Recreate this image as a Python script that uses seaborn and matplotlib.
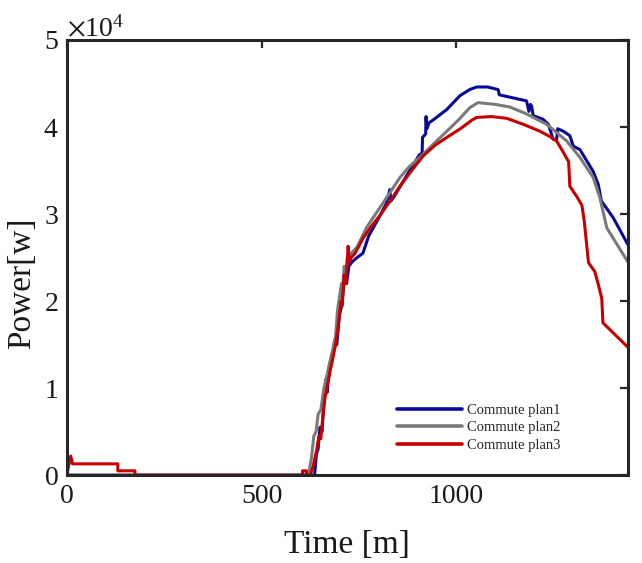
import numpy as np
import pandas as pd
import seaborn as sns
import matplotlib
matplotlib.use("Agg")
import matplotlib.pyplot as plt

# ---- data (Time in minutes, Power in W) ----
t_plan1 = [0, 636, 641, 645, 650, 655, 660, 665, 668, 672, 680, 688, 693, 700, 706, 712, 718,
           724, 732, 745, 760, 775, 800, 820, 829, 832, 840, 860, 880, 905, 912, 913, 921, 922,
           924, 930, 940, 975, 1009, 1034, 1052, 1080, 1107, 1110, 1150, 1180, 1186, 1190, 1193,
           1197, 1222, 1236, 1248, 1257, 1260, 1275, 1291, 1300, 1317, 1351, 1364, 1372, 1402, 1440]
p_plan1 = [0, 0, 2500, 3000, 5500, 5000, 8500, 11000, 9500, 12000, 13000, 15500, 15000, 18500,
           19500, 22500, 22000, 24000, 24500, 25000, 25500, 27500, 29500, 31200, 32800, 31500,
           32000, 33500, 35000, 36800, 37000, 38800, 39200, 41200, 39800, 40500, 40800, 42000,
           43600, 44300, 44600, 44600, 44300, 43700, 43300, 43000, 41800, 42600, 42400, 41300,
           40900, 40300, 38600, 38500, 39800, 39500, 39000, 37800, 37400, 34900, 33400, 31500,
           29600, 26500]

t_plan2 = [0, 620, 628, 634, 640, 645, 652, 660, 668, 675, 683, 690, 695, 700, 705, 708, 712,
           716, 720, 730, 745, 770, 803, 830, 855, 880, 906, 940, 975, 1005, 1034, 1055, 1100,
           1137, 1180, 1232, 1283, 1317, 1351, 1368, 1386, 1440]
p_plan2 = [0, 0, 2000, 4500, 5000, 7000, 7500, 10000, 11500, 13000, 14500, 16000, 19000, 20500,
           22000, 21500, 24000, 23000, 25000, 25500, 26200, 28500, 30700, 32500, 34200, 35500,
           36500, 38000, 39500, 40800, 42200, 42800, 42600, 42300, 41500, 40300, 38400, 36500,
           34200, 31900, 28400, 24500]

t_plan3 = [0, 10, 15, 131, 131, 175, 175, 605, 605, 615, 615, 625, 632, 641, 647, 652, 657, 663,
           670, 676, 683, 690, 696, 700, 704, 707, 709, 712, 716, 720, 722, 725, 730, 740, 760,
           780, 803, 830, 855, 885, 915, 945, 975, 1010, 1040, 1052, 1090, 1129, 1172, 1215, 1240,
           1257, 1273, 1288, 1291, 1309, 1322, 1328, 1339, 1355, 1363, 1373, 1376, 1440]
p_plan3 = [0, 2200, 1300, 1300, 500, 500, 0, 0, 500, 500, 0, 0, 1000, 2800, 4500, 4200, 6600,
           9000, 10500, 12000, 13500, 15000, 16900, 18500, 20000, 19500, 21100, 23000, 22000,
           24500, 26300, 24500, 25000, 25500, 27200, 28500, 29800, 31500, 33200, 35000, 36700,
           37900, 38800, 39800, 40800, 41100, 41200, 41000, 40300, 39500, 38900, 38400, 37200,
           36000, 33200, 32000, 31000, 29200, 24400, 23400, 22100, 20300, 17500, 14700]

labels = ["Commute plan1", "Commute plan2", "Commute plan3"]
colors = ["#0a0a9a", "#7a7a7a", "#c80000"]

frames = []
for lab, t, p in zip(labels, [t_plan1, t_plan2, t_plan3], [p_plan1, p_plan2, p_plan3]):
    frames.append(pd.DataFrame({"Time": t, "Power": p, "Plan": lab}))
df = pd.concat(frames, ignore_index=True)

sns.set_theme(style="white")
plt.rcParams["font.family"] = ["Liberation Serif", "DejaVu Serif"]
plt.rcParams["mathtext.fontset"] = "stix"

fig = plt.figure(figsize=(6.42, 5.63), dpi=100)
ax = fig.add_axes([0.104, 0.156, 0.874, 0.773])

sns.lineplot(data=df, x="Time", y="Power", hue="Plan", palette=colors,
             estimator=None, sort=False, units="Plan", linewidth=2.2, ax=ax)

ax.set_xlim(0, 1440)
ax.set_ylim(0, 50000)
ax.set_xticks([0, 500, 1000])
ax.set_yticks([0, 10000, 20000, 30000, 40000, 50000])
ax.ticklabel_format(axis="y", style="sci", scilimits=(0, 0), useMathText=True)
ax.yaxis.get_offset_text().set_fontsize(20)
ax.tick_params(axis="both", which="both", direction="in", length=6, width=1.6,
               top=True, right=True, labelsize=20, color="#262626", labelcolor="#1a1a1a", pad=6)
for s in ax.spines.values():
    s.set_color("#262626")
    s.set_linewidth(2.2)
    s.set_visible(True)

ax.set_xlabel("Time [m]", fontsize=24, color="#1a1a1a", labelpad=15)
ax.set_ylabel("Power[w]", fontsize=24, color="#1a1a1a")
ax.yaxis.set_label_coords(-0.053, 0.44)

leg = ax.legend(loc="center", bbox_to_anchor=(0.746, 0.240), bbox_transform=fig.transFigure,
                frameon=False, fontsize=10.5, handlelength=4.45, handletextpad=0.35,
                labelspacing=0.27, borderpad=0.0)
for line in leg.get_lines():
    line.set_linewidth(2.6)

fig.savefig("out.png", dpi=100)
